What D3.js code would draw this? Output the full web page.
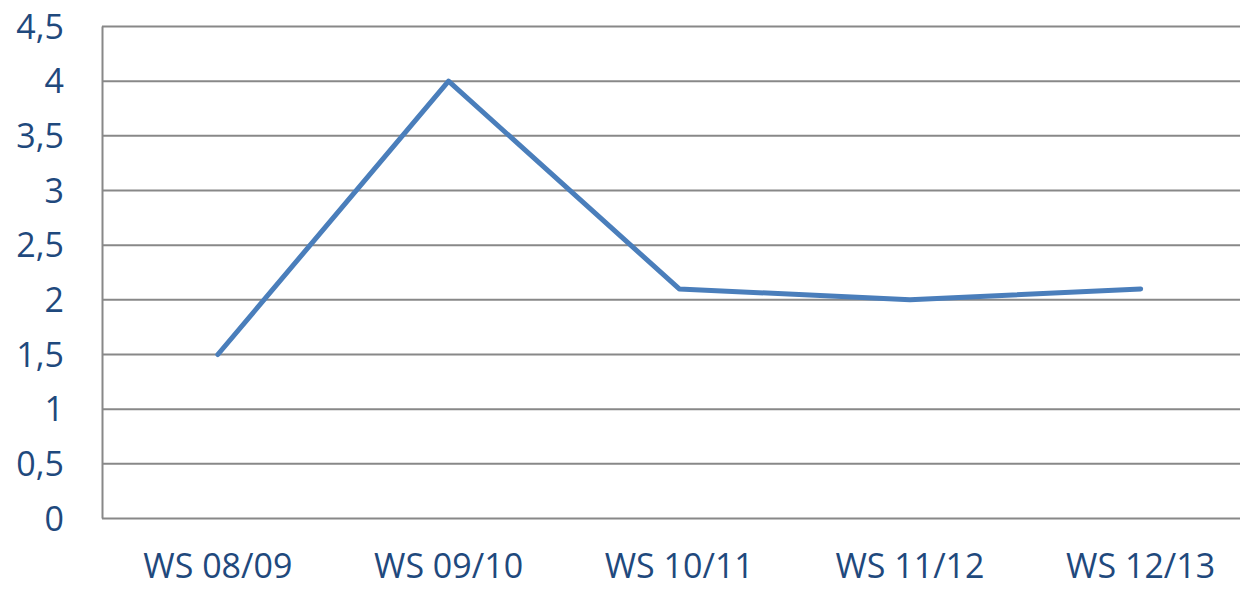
<!DOCTYPE html>
<html><head><meta charset="utf-8">
<script src="https://cdn.jsdelivr.net/npm/d3@7"></script>
<style>body{margin:0;background:#fff}svg{display:block}</style>
</head><body>
<script>
const categories = ["WS 08/09","WS 09/10","WS 10/11","WS 11/12","WS 12/13"];
const values = [1.5, 4, 2.1, 2.0, 2.1];
const yTicks = [0,0.5,1,1.5,2,2.5,3,3.5,4,4.5];

const W=1240,H=589;
const svg=d3.select("body").append("svg").attr("width",W).attr("height",H);
const x=d3.scaleBand().domain(categories).range([102.5,1256]);
const y=d3.scaleLinear().domain([0,4.5]).range([518.5,26.5]);
const font="'Open Sans', sans-serif", col="#1F497D";

svg.append("g").selectAll("line").data(yTicks).join("line")
  .attr("x1",102).attr("x2",W).attr("y1",d=>y(d)).attr("y2",d=>y(d))
  .attr("stroke","#888").attr("stroke-width",2);
svg.append("line").attr("x1",102.5).attr("x2",102.5).attr("y1",y(4.5)).attr("y2",y(0))
  .attr("stroke","#888").attr("stroke-width",2);

svg.append("g").selectAll("text").data(yTicks).join("text")
  .attr("x",64).attr("y",d=>y(d)).attr("dy","0.36em").attr("text-anchor","end")
  .attr("font-family",font).attr("font-size",34).attr("fill",col)
  .text(d=>String(d).replace(".",","));

svg.append("g").selectAll("text").data(categories).join("text")
  .attr("x",d=>x(d)+x.bandwidth()/2).attr("y",578).attr("text-anchor","middle")
  .attr("font-family",font).attr("font-size",34).attr("fill",col).text(d=>d);

const line=d3.line().x((d,i)=>x(categories[i])+x.bandwidth()/2).y(d=>y(d));
svg.append("path").datum(values).attr("d",line).attr("fill","none")
  .attr("stroke","#4A7EBB").attr("stroke-width",5).attr("stroke-linejoin","round").attr("stroke-linecap","round");
</script>
</body></html>
